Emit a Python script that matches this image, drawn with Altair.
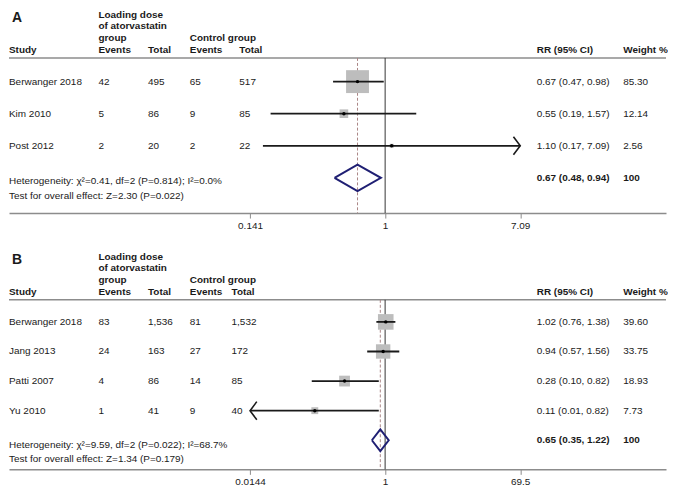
import altair as alt
import numpy as np
import pandas as pd

# ---------------- data: panel A ----------------
a_study = ["Berwanger 2018", "Kim 2010", "Post 2012"]
a_ev1 = [42, 5, 2]
a_tot1 = [495, 86, 20]
a_ev2 = [65, 9, 2]
a_tot2 = [517, 85, 22]
a_rr = [0.67, 0.55, 1.10]
a_lo = [0.47, 0.19, 0.17]
a_hi = [0.98, 1.57, 7.09]
a_weight = [85.30, 12.14, 2.56]
a_pool_text = [0.67, 0.48, 0.94]
a_pool_drawn = [0.67, 0.48, 0.94]
a_het = "Heterogeneity: χ²=0.41, df=2 (P=0.814); I²=0.0%"
a_test = "Test for overall effect: Z=2.30 (P=0.022)"
a_ticks = [0.141, 1, 7.09]

# ---------------- data: panel B ----------------
b_study = ["Berwanger 2018", "Jang 2013", "Patti 2007", "Yu 2010"]
b_ev1 = [83, 24, 4, 1]
b_tot1 = [1536, 163, 86, 41]
b_ev2 = [81, 27, 14, 9]
b_tot2 = [1532, 172, 85, 40]
b_rr = [1.02, 0.94, 0.28, 0.11]
b_lo = [0.76, 0.57, 0.10, 0.01]
b_hi = [1.38, 1.56, 0.82, 0.82]
b_weight = [39.60, 33.75, 18.93, 7.73]
b_pool_text = [0.65, 0.35, 1.22]
b_pool_drawn = [0.86, 0.66, 1.12]   # diamond as it is drawn in the figure
b_het = "Heterogeneity: χ²=9.59, df=2 (P=0.022); I²=68.7%"
b_test = "Test for overall effect: Z=1.34 (P=0.179)"
b_ticks = [0.0144, 1, 69.5]

# ---------------- styling / layout ----------------
W = 660
SX = W / 676
SY = 0.962
FONT = "Liberation Sans"
TXT = "#1a1a1a"
GRAY = "#8c8c8c"
NAVY = "#1f1f73"
ONE = pd.DataFrame({"k": [0]})


def px(x):
    return x * SX


def py(y):
    return y * SY


LAY_A = dict(y0=74.7, step=33.5, axis_y=212, het_y=179, test_y=194.5, tot2_x=237,
             dh=0.41, size_max=620)
LAY_B = dict(y0=73, step=30.9, axis_y=227, het_y=201.8, test_y=216.2, tot2_x=229,
             dh=0.37, size_max=430)


def build_panel(letter, studies, ev1, tot1, ev2, tot2, rr, lo, hi, wt,
                pool_text, pool_drawn, het, test, ticks, lay):
    n = len(studies)
    H = py(lay["axis_y"])
    lo_t, hi_t = ticks[0], ticks[-1]
    k = (526 - 248) / np.log(hi_t / lo_t)
    dom = [float(np.exp(np.log(lo_t) - 248 / k)),
           float(np.exp(np.log(hi_t) + (676 - 526) / k))]
    xs = alt.Scale(type="log", domain=dom, nice=False)
    xaxis = alt.Axis(values=ticks, labelExpr="'' + datum.value", title=None, grid=False)

    def X(f):
        return alt.X(f, type="quantitative", scale=xs, axis=xaxis)

    y0, step = lay["y0"], lay["step"]
    ys = alt.Scale(domain=[(0 - y0) / step, (lay["axis_y"] - y0) / step],
                   reverse=True, nice=False, zero=False)

    def Y(f):
        return alt.Y(f, type="quantitative", scale=ys, axis=None)

    df = pd.DataFrame({
        "row": list(range(n)),
        "study": studies,
        "ev1": [f"{v:,}" for v in ev1],
        "tot1": [f"{v:,}" for v in tot1],
        "ev2": [f"{v:,}" for v in ev2],
        "tot2": [f"{v:,}" for v in tot2],
        "rr": rr,
        "lo": lo,
        "hi": hi,
        "lo_d": [max(v, lo_t) for v in lo],
        "hi_d": [min(v, hi_t) for v in hi],
        "rr_lbl": [f"{a:.2f} ({b:.2f}, {c:.2f})" for a, b, c in zip(rr, lo, hi)],
        "w": wt,
        "w_lbl": [f"{v:.2f}" for v in wt],
    })
    right = df[df["hi"] >= hi_t]
    left = df[df["lo"] <= lo_t]

    est, pl, ph = pool_drawn
    hh = lay["dh"]
    dia = pd.DataFrame({
        "xv": [pl, est, ph, est, pl],
        "yv": [n, n - hh, n, n + hh, n],
        "ord": [0, 1, 2, 3, 4],
    })
    summ = pd.DataFrame({
        "row": [n],
        "rr_lbl": [f"{pool_text[0]:.2f} ({pool_text[1]:.2f}, {pool_text[2]:.2f})"],
        "w_lbl": ["100"],
    })

    def lab(t, xr, yr, bold=False, size=10):
        return alt.Chart(ONE).mark_text(
            align="left", baseline="middle", font=FONT, fontSize=size,
            fontWeight="bold" if bold else "normal", color=TXT, text=t
        ).encode(x=alt.value(px(xr)), y=alt.value(py(yr)))

    def col(field, xr, data, bold=False):
        return alt.Chart(data).mark_text(
            align="left", baseline="middle", font=FONT, fontSize=10,
            fontWeight="bold" if bold else "normal", color=TXT
        ).encode(x=alt.value(px(xr)), y=Y("row"), text=alt.Text(f"{field}:N"))

    layers = []
    # header rule
    layers.append(alt.Chart(ONE).mark_rule(color=GRAY, strokeWidth=1.5).encode(
        x=alt.value(0), x2=alt.value(W), y=alt.value(py(50))))
    # no-effect line
    layers.append(alt.Chart(pd.DataFrame({"v": [1.0]})).mark_rule(
        color="#333333", strokeWidth=1).encode(
        x=X("v"), y=alt.value(py(50)), y2=alt.value(H)))
    # pooled estimate dashed line
    layers.append(alt.Chart(pd.DataFrame({"v": [est]})).mark_rule(
        color="#a98585", strokeWidth=1, strokeDash=[3, 2]).encode(
        x=X("v"), y=alt.value(py(50)), y2=alt.value(H)))
    # weight squares
    layers.append(alt.Chart(df).mark_square(color="#bdbdbd", opacity=1).encode(
        x=X("rr"), y=Y("row"),
        size=alt.Size("w:Q", scale=alt.Scale(domain=[0, 100], range=[0, lay["size_max"]]),
                      legend=None)))
    # CI lines
    layers.append(alt.Chart(df).mark_rule(color="#1a1a1a", strokeWidth=1.8).encode(
        x=X("lo_d"), x2="hi_d", y=Y("row")))
    # point estimates
    layers.append(alt.Chart(df).mark_point(shape="circle", filled=True, size=12,
                                           color="#000000", opacity=1).encode(
        x=X("rr"), y=Y("row")))
    # arrows
    if len(right):
        layers.append(alt.Chart(right).mark_point(
            shape="M-0.75,-1L0,0L-0.75,1", filled=False, size=330,
            color="#1a1a1a", strokeWidth=1.6, opacity=1).encode(
            x=X("hi_d"), y=Y("row")))
    if len(left):
        layers.append(alt.Chart(left).mark_point(
            shape="M0.75,-1L0,0L0.75,1", filled=False, size=330,
            color="#1a1a1a", strokeWidth=1.6, opacity=1).encode(
            x=X("lo_d"), y=Y("row")))
    # pooled diamond
    layers.append(alt.Chart(dia).mark_line(color=NAVY, strokeWidth=2).encode(
        x=X("xv"), y=Y("yv"), order="ord:Q"))

    # header texts
    layers += [
        lab(letter, 3, 8, bold=True, size=14),
        lab("Loading dose", 92, 5, bold=True),
        lab("of atorvastatin", 92, 17, bold=True),
        lab("group", 92, 29, bold=True),
        lab("Control group", 186, 29, bold=True),
        lab("Study", 0, 41.5, bold=True),
        lab("Events", 92, 41.5, bold=True),
        lab("Total", 143, 41.5, bold=True),
        lab("Events", 186, 41.5, bold=True),
        lab("Total", lay["tot2_x"], 41.5, bold=True),
        lab("RR (95% CI)", 543, 41.5, bold=True),
        lab("Weight %", 632, 41.5, bold=True),
        lab(het, 0, lay["het_y"]),
        lab(test, 0, lay["test_y"]),
    ]
    # table columns
    layers += [
        col("study", 0, df),
        col("ev1", 92, df),
        col("tot1", 143, df),
        col("ev2", 186, df),
        col("tot2", lay["tot2_x"], df),
        col("rr_lbl", 543, df),
        col("w_lbl", 632, df),
        col("rr_lbl", 543, summ, bold=True),
        col("w_lbl", 632, summ, bold=True),
    ]
    return alt.layer(*layers).properties(width=W, height=H)


panel_a = build_panel("A", a_study, a_ev1, a_tot1, a_ev2, a_tot2, a_rr, a_lo, a_hi,
                      a_weight, a_pool_text, a_pool_drawn, a_het, a_test, a_ticks, LAY_A)
panel_b = build_panel("B", b_study, b_ev1, b_tot1, b_ev2, b_tot2, b_rr, b_lo, b_hi,
                      b_weight, b_pool_text, b_pool_drawn, b_het, b_test, b_ticks, LAY_B)

chart = alt.vconcat(panel_a, panel_b, spacing=21).properties(
    padding=0
).configure(
    font=FONT, background="white"
).configure_view(
    strokeWidth=0, stroke="transparent"
).configure_axis(
    domainColor=GRAY, domainWidth=1.5, tickColor=GRAY, tickWidth=1, tickSize=5,
    labelFont=FONT, labelFontSize=10, labelColor=TXT, labelPadding=2
)

chart.save("out.html", embed_options={"renderer": "svg", "actions": False})
